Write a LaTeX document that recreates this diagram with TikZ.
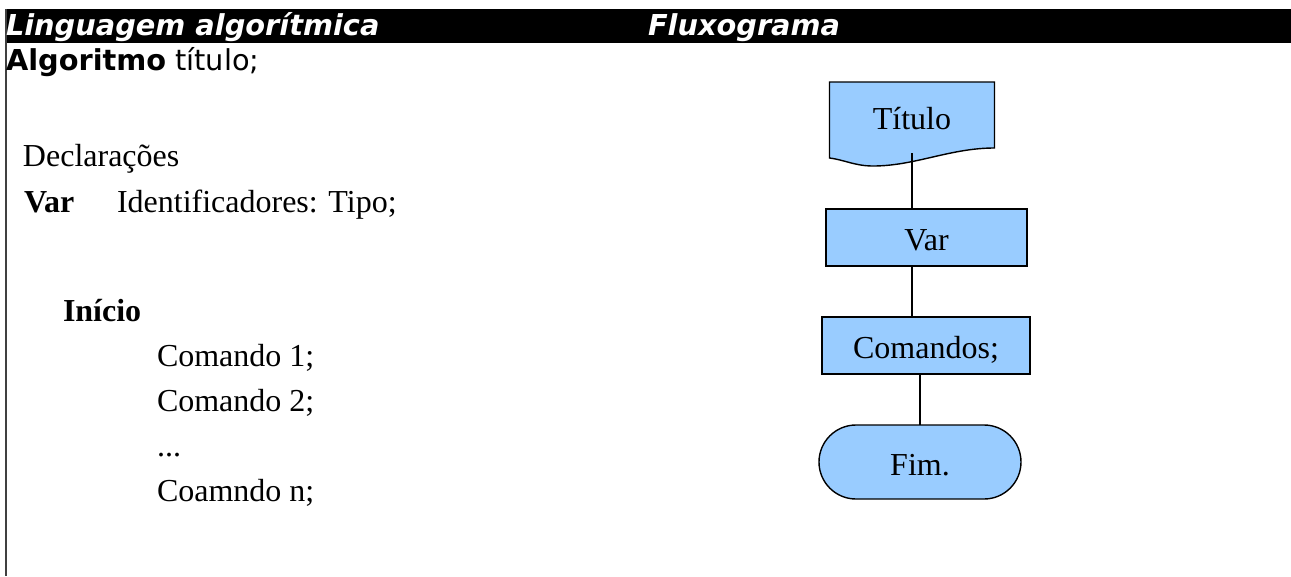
\documentclass[tikz,border=0pt]{standalone}
\usepackage{fontspec}
\setmainfont{Liberation Serif}
\newfontfamily\dejavu{DejaVu Sans}
\usetikzlibrary{shapes.misc}
\definecolor{boxblue}{HTML}{99CCFF}

\begin{document}
\begin{tikzpicture}[x=1pt,y=-1pt,line width=1.4pt]
  \tikzstyle{every node}=[inner sep=0pt,outer sep=0pt]
  \tikzstyle{head}=[text=white,anchor=base west,font=\dejavu\bfseries\itshape\fontsize{28.8}{34}\selectfont]
  \tikzstyle{code}=[anchor=base west,font=\fontsize{32}{38}\selectfont]
  \tikzstyle{block}=[draw=black,fill=boxblue,font=\fontsize{32}{38}\selectfont,
                     text height=26pt,text depth=0pt]

  \useasboundingbox (0,0) rectangle (1291,576);

  % title bar and left rule
  \fill[black] (5,9) rectangle (1291,43);
  \draw[black!75,line width=1.6pt] (6,9) -- (6,576);

  \node[head]           (lhead)  at (6,35)      {Linguagem algorítmica};
  \node[head]           (rhead)  at (648,35)    {Fluxograma};
  \node[anchor=base west,font=\dejavu\fontsize{28.8}{34}\selectfont]
                        (alg)    at (6,70)      {\textbf{Algoritmo} título;};

  % algorithm text
  \node[code]           (decl)   at (23,166)    {Declarações};
  \node[code]           (var)    at (24,212)    {\textbf{Var}};
  \node[code]           (ident)  at (117,212)   {Identificadores: Tipo;};
  \node[code]           (ini)    at (63,321)    {\textbf{Início}};
  \node[code]           (cmd1)   at (157,366)   {Comando 1;};
  \node[code]           (cmd2)   at (157,411)   {Comando 2;};
  \node[code]           (dots)   at (157,456)   {...};
  \node[code]           (cmdn)   at (157,501)   {Coamndo n;};

  % flowchart
  \node[minimum width=165pt,minimum height=76pt] (tit) at (912,120) {};
  \draw[fill=boxblue] (tit.north west) -- (tit.north east) -- ([yshift=10pt]tit.south east)
        .. controls (950,148) and (915,166) .. (873,166)
        .. controls (855,166) and (845,160) .. (tit.south west) -- cycle;
  \node[font=\fontsize{32}{38}\selectfont,text height=22pt,text depth=0pt]
                        (titl)   at ([yshift=2pt]tit)  {Título};

  \node[block,minimum width=201pt,minimum height=57pt]   (varb) at (926.5,237.5) {Var};
  \node[block,minimum width=208pt,minimum height=57pt]   (cmds) at (926,345.5)   {Comandos;};
  \node[block,rounded rectangle,minimum width=202pt,minimum height=74pt]
                                                        (fim)  at (920,462)     {Fim.};

  \draw[line width=1.6pt] ([yshift=5pt]tit.south) -- (tit.south |- varb.north);
  \draw[line width=1.6pt] (varb.south -| tit.south) -- (cmds.north -| tit.south);
  \draw[line width=1.6pt] (cmds.south -| fim.north) -- (fim.north);
\end{tikzpicture}
\end{document}
